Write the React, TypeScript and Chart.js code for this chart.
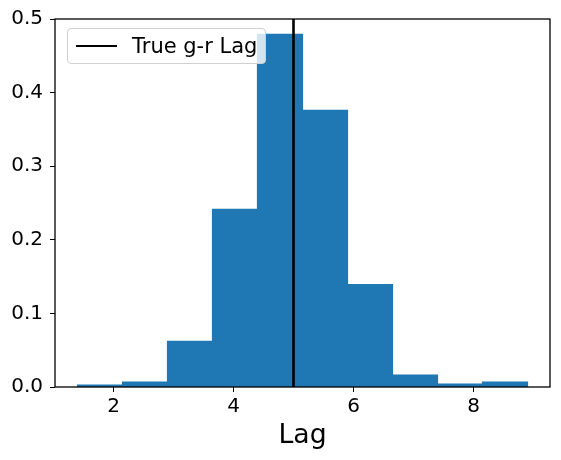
import React, { useEffect, useRef } from 'react';
import Chart from 'chart.js/auto';

// Histogram of recovered lags (density), 10 bins from 1.40 to 8.90
const binEdges = [1.4, 2.15, 2.9, 3.65, 4.4, 5.15, 5.9, 6.65, 7.4, 8.15, 8.9];
const densities = [0.0025, 0.0065, 0.062, 0.2415, 0.479, 0.376, 0.139, 0.016, 0.004, 0.0065];
const trueLag = 5;
const xTicks = [2, 4, 6, 8];
const yTicks = [0, 0.1, 0.2, 0.3, 0.4, 0.5];

const FONT = "'DejaVu Sans', sans-serif";

// draws the top/right/left/bottom spines like matplotlib
const framePlugin = {
  id: 'frame',
  afterDraw(chart: any) {
    const { ctx, chartArea } = chart;
    ctx.save();
    ctx.strokeStyle = '#000';
    ctx.lineWidth = 1.3;
    ctx.strokeRect(chartArea.left, chartArea.top, chartArea.right - chartArea.left, chartArea.bottom - chartArea.top);
    ctx.restore();
  },
};

const App: React.FC = () => {
  const canvasRef = useRef<HTMLCanvasElement>(null);

  useEffect(() => {
    if (!canvasRef.current) return;
    const ctx = canvasRef.current.getContext('2d');
    if (!ctx) return;

    const bars = densities.map((d, i) => ({ x: (binEdges[i] + binEdges[i + 1]) / 2, y: d }));

    const chart = new Chart(ctx, {
      type: 'bar',
      data: {
        datasets: [
          {
            type: 'line',
            label: 'True g-r Lag',
            data: [
              { x: trueLag, y: 0 },
              { x: trueLag, y: 0.5 },
            ],
            borderColor: '#000',
            borderWidth: 2.6,
            pointRadius: 0,
            order: 0,
          } as any,
          {
            type: 'bar',
            label: 'lags',
            data: bars,
            backgroundColor: '#1f77b4',
            borderWidth: 0,
            inflateAmount: 0.6,
            barPercentage: 1,
            categoryPercentage: 1,
            order: 1,
          } as any,
        ],
      },
      options: {
        responsive: false,
        animation: false,
        devicePixelRatio: 1,
        layout: { padding: { left: 0, right: 11, top: 17, bottom: 0 } },
        plugins: {
          legend: { display: false },
          tooltip: { enabled: false },
        },
        scales: {
          x: {
            type: 'linear',
            min: 1.025,
            max: 9.275,
            offset: false,
            grid: { offset: false, drawOnChartArea: false, drawTicks: true, tickLength: 5, color: '#000' },
            border: { display: false },
            afterBuildTicks: (scale: any) => {
              scale.ticks = xTicks.map(v => ({ value: v }));
            },
            afterFit: (scale: any) => {
              scale.height = 73;
            },
            ticks: {
              color: '#000',
              padding: 3,
              maxRotation: 0,
              font: { family: FONT, size: 20 },
              callback: (v: any) => String(v),
            },
            title: {
              display: true,
              text: 'Lag',
              color: '#000',
              font: { family: FONT, size: 26.7 },
              padding: { top: 0, bottom: 8 },
            },
          },
          y: {
            type: 'linear',
            min: 0,
            max: 0.5,
            grid: { drawOnChartArea: false, drawTicks: true, tickLength: 5, color: '#000' },
            border: { display: false },
            afterBuildTicks: (scale: any) => {
              scale.ticks = yTicks.map(v => ({ value: v }));
            },
            afterFit: (scale: any) => {
              scale.width = 55;
            },
            ticks: {
              color: '#000',
              padding: 7,
              font: { family: FONT, size: 20 },
              callback: (v: any) => Number(v).toFixed(1),
            },
          },
        },
      },
      plugins: [framePlugin],
    });

    return () => chart.destroy();
  }, []);

  return (
    <div style={{ position: 'fixed', left: 0, top: 0, width: 561, height: 460, background: '#fff' }}>
      <canvas ref={canvasRef} width={561} height={460} />
      <div
        style={{
          position: 'absolute',
          left: 67,
          top: 28,
          width: 199,
          height: 36,
          boxSizing: 'border-box',
          border: '1px solid #d0d0d0',
          borderRadius: 4,
          background: 'rgba(255,255,255,0.8)',
          fontFamily: FONT,
          fontSize: 21,
          color: '#000',
        }}
      >
        <div style={{ position: 'absolute', left: 8, top: 16, width: 41, height: 0, borderTop: '2.6px solid #000' }} />
        <div style={{ position: 'absolute', left: 64, top: 4, lineHeight: '26px', whiteSpace: 'nowrap' }}>True g-r Lag</div>
      </div>
    </div>
  );
};

export default App;
